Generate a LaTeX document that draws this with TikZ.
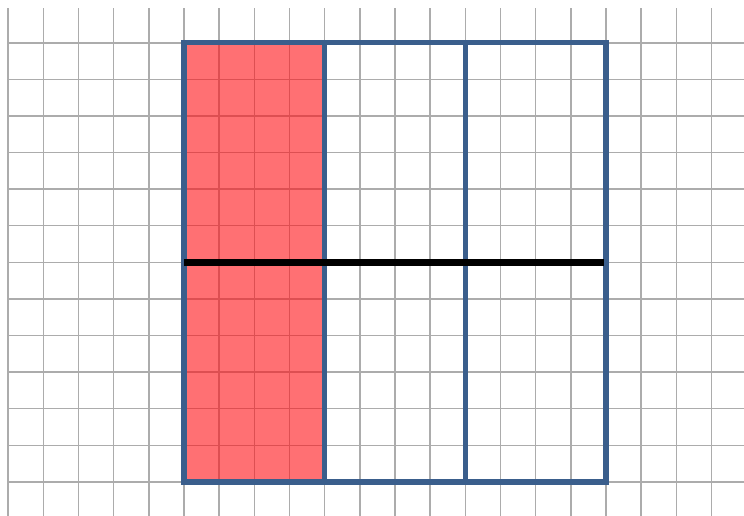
\documentclass[tikz,border=0pt]{standalone}
\usepackage{tikz}
\usetikzlibrary{positioning}

\definecolor{gridgray}{RGB}{172,172,172}
\definecolor{shadered}{RGB}{255,17,22}
\definecolor{frameblue}{RGB}{58,94,140}

\begin{document}
\begin{tikzpicture}[x=26.38pt, y=27.45pt,
    gridline/.style={draw=gridgray, line width=1.1pt, step={(1,1)}},
    frame/.style={draw=frameblue, line width=4pt, line join=miter},
    cut/.style={draw=black, line width=5.5pt}]
    \useasboundingbox (-5.232,-0.929) rectangle (15.923,13.169);
    \draw[gridline] (-5,-0.929) grid (15.923,12.95);
    \fill[shadered, fill opacity=0.6] (0,0) rectangle (4,12);
    \draw[frame] (0,0) rectangle (12,12);
    \draw[frame] (4,0) -- (4,12);
    \draw[frame] (8,0) -- (8,12);
    \coordinate (midL) at (0,6);
    \coordinate (midR) at (11.93,6);
    \draw[cut] (midL) -- (midR);
\end{tikzpicture}
\end{document}
